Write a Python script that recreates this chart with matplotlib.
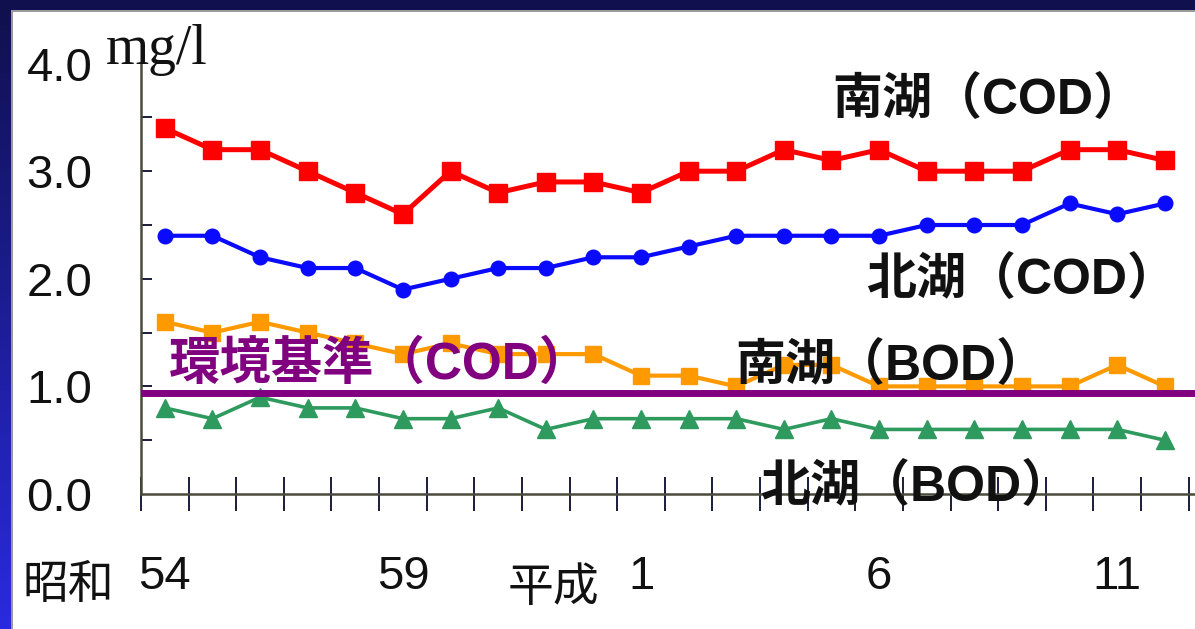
import numpy as np
import matplotlib
matplotlib.use("Agg")
import matplotlib.pyplot as plt
from matplotlib.patches import Rectangle

# Fiscal years: Showa 54 .. Showa 63, then Heisei 1 .. Heisei 12
years = ["54", "55", "56", "57", "58", "59", "60", "61", "62", "63",
         "1", "2", "3", "4", "5", "6", "7", "8", "9", "10", "11", "12"]
labeled_idx = [0, 5, 10, 15, 20]

# Annual mean water quality (mg/l)
south_cod = [3.4, 3.2, 3.2, 3.0, 2.8, 2.6, 3.0, 2.8, 2.9, 2.9, 2.8,
             3.0, 3.0, 3.2, 3.1, 3.2, 3.0, 3.0, 3.0, 3.2, 3.2, 3.1]
north_cod = [2.4, 2.4, 2.2, 2.1, 2.1, 1.9, 2.0, 2.1, 2.1, 2.2, 2.2,
             2.3, 2.4, 2.4, 2.4, 2.4, 2.5, 2.5, 2.5, 2.7, 2.6, 2.7]
south_bod = [1.6, 1.5, 1.6, 1.5, 1.4, 1.3, 1.4, 1.3, 1.3, 1.3, 1.1,
             1.1, 1.0, 1.2, 1.2, 1.0, 1.0, 1.0, 1.0, 1.0, 1.2, 1.0]
north_bod = [0.8, 0.7, 0.9, 0.8, 0.8, 0.7, 0.7, 0.8, 0.6, 0.7, 0.7,
             0.7, 0.7, 0.6, 0.7, 0.6, 0.6, 0.6, 0.6, 0.6, 0.6, 0.5]
cod_standard = 0.94

y_ticks = [0.0, 1.0, 2.0, 3.0, 4.0]
y_minor = [0.5, 1.5, 2.5, 3.5]

W, H = 1195, 629
fig = plt.figure(figsize=(W / 100, H / 100), dpi=100, facecolor="white")


def fx(px):
    return px / W


def fy(py):
    return 1 - py / H


# slide frame: dark band on top, blue gradient band on the left
grad = np.linspace(0, 1, 256).reshape(-1, 1)
top_col = np.array([0x10, 0x10, 0x4c]) / 255
bot_col = np.array([0x2a, 0x2a, 0xe0]) / 255
band = top_col + (bot_col - top_col) * grad[..., None]
band_ax = fig.add_axes([0, 0, fx(11), 1])
band_ax.imshow(band, aspect="auto", extent=[0, 1, 1, 0])
band_ax.set_axis_off()
fig.patches.append(Rectangle((0, fy(10)), 1, 1 - fy(10), transform=fig.transFigure,
                             facecolor="#10104e", edgecolor="none", zorder=5))
fig.patches.append(Rectangle((fx(11), fy(12)), 1, fy(10) - fy(12), transform=fig.transFigure,
                             facecolor="#9a9a9a", edgecolor="none", zorder=5))
fig.patches.append(Rectangle((fx(11), 0), fx(2), fy(10), transform=fig.transFigure,
                             facecolor="#9a9a9a", edgecolor="none", zorder=5))

# plotting area
x0_px, x_end_px = 141, W
y0_px, y4_px = 494, 63.6
ax = fig.add_axes([fx(x0_px), fy(y0_px), 1 - fx(x0_px), fy(y4_px) - fy(y0_px)])
ax.set_facecolor("none")
step = 47.62
ax.set_xlim(-0.5, -0.5 + (x_end_px - x0_px) / step)
ax.set_ylim(0, 4.0)

x = np.arange(len(years))
ax.plot(x, south_cod, color="#ff0000", lw=3.6, marker="s", ms=13, zorder=4)
ax.plot(x, north_cod, color="#0a0aff", lw=3.0, marker="o", ms=10.5, zorder=4)
ax.plot(x, south_bod, color="#ff9900", lw=3.0, marker="s", ms=11.5, zorder=3)
ax.plot(x, north_bod, color="#2e9a5e", lw=2.6, marker="^", ms=13.5, zorder=3)
ax.axhline(cod_standard, color="#800080", lw=5, zorder=5)

for side in ("top", "right"):
    ax.spines[side].set_visible(False)
for side in ("left", "bottom"):
    ax.spines[side].set_color("#4a4a3c")
    ax.spines[side].set_linewidth(1.8)

num_font = ["Liberation Sans Narrow", "Liberation Sans", "DejaVu Sans"]
cjk_font = ["Liberation Sans", "Noto Sans CJK JP", "DejaVu Sans"]

ax.set_yticks(y_ticks, labels=[f"{v:.1f}" for v in y_ticks])
ax.set_yticks(y_minor, minor=True)
ax.tick_params(axis="y", which="both", direction="in", length=8, width=1.4,
               color="#1a1a3a", pad=35)
for lab in ax.get_yticklabels():
    lab.set_family(num_font)
    lab.set_fontsize(34)
    lab.set_color("#111111")
ax.yaxis.get_major_ticks()[-1].tick1line.set_visible(False)
ax.yaxis.get_major_ticks()[0].tick1line.set_visible(False)

# tick marks sit between the years, labels under every fifth year
ax.set_xticks(np.arange(-0.5, len(years), 1.0), labels=[])
ax.set_xticks(labeled_idx, labels=[years[i] for i in labeled_idx], minor=True)
ax.tick_params(axis="x", which="major", direction="inout", length=25, width=1.4,
               color="#1a1a3a")
ax.tick_params(axis="x", which="minor", length=0, pad=44)
for lab in ax.get_xticklabels(minor=True):
    lab.set_family(num_font)
    lab.set_fontsize(34)
    lab.set_color("#111111")

# era names and unit
fig.text(fx(22), fy(598), "昭和", family=cjk_font, fontsize=33, color="#111111")
fig.text(fx(508), fy(601), "平成", family=cjk_font, fontsize=33, color="#111111")
fig.text(fx(106), fy(64), "mg/l", family=["Liberation Serif", "DejaVu Serif"],
         fontsize=40, color="#111111")

# series labels
label_kw = dict(family=cjk_font, fontsize=36, fontweight="bold", zorder=10)
ax.text(fx(832), fy(114), "南湖（COD）", transform=fig.transFigure, color="#111111", **label_kw)
ax.text(fx(866), fy(294), "北湖（COD）", transform=fig.transFigure, color="#111111", **label_kw)
ax.text(fx(735), fy(380), "南湖（BOD）", transform=fig.transFigure, color="#111111", **label_kw)
ax.text(fx(760), fy(501), "北湖（BOD）", transform=fig.transFigure, color="#111111", **label_kw)
ax.text(fx(169), fy(379), "環境基準（COD）", transform=fig.transFigure, color="#800080",
        fontsize=37, family=cjk_font, fontweight="bold", zorder=10)

fig.savefig("out.png", dpi=100, facecolor="white")
